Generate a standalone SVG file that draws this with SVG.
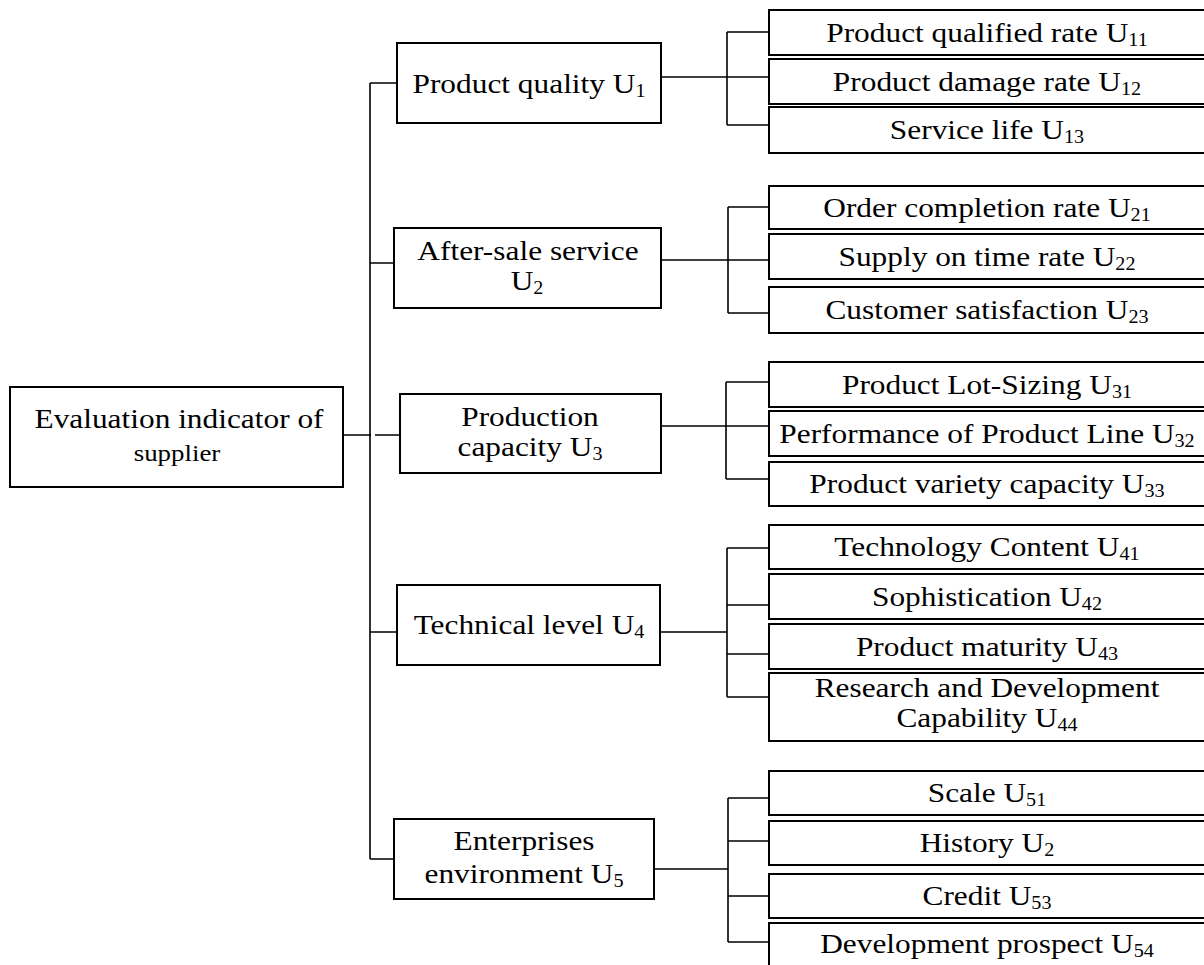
<svg xmlns="http://www.w3.org/2000/svg" width="1204" height="965" viewBox="0 0 1204 965">
<style>
.box{fill:#fff;stroke:#000;stroke-width:2}
.ln{stroke:#000;stroke-width:1.6;fill:none}
text{font-family:"Liberation Serif","Times New Roman",serif;font-size:28px;fill:#000;text-anchor:middle}
.sub{font-size:18px}
</style>
<rect width="1204" height="965" fill="#fff"/>
<g id="connectors" class="ln">
<path d="M370,83 V859 M370,83 H397 M370,263 H394 M343,435 H371 M375,435 H400 M370,632 H397 M370,859 H394"/>
<path d="M661,77 H769 M727,32 V125 M727,32 H769 M727,125 H769"/>
<path d="M661,260 H769 M728,207 V313 M728,207 H769 M728,313 H769"/>
<path d="M661,426 H769 M726,382 V479 M726,382 H769 M726,479 H769"/>
<path d="M660,632 H727 M727,548 V697 M727,548 H769 M727,605 H769 M727,654 H769 M727,697 H769"/>
<path d="M654,869 H728 M728,798 V942 M728,798 H769 M728,841 H769 M728,896 H769 M728,942 H769"/>
</g>
<g id="root"><rect class="box" x="10" y="387" width="333" height="100"/><text transform="translate(179,428) scale(1.12,1)">Evaluation indicator of</text><text transform="translate(177,461) scale(1.12,1)" style="font-size:24px">supplier</text></g>
<g id="u1"><rect class="box" x="397" y="43" width="264" height="80"/><text transform="translate(529,92.5) scale(1.12,1)">Product quality U<tspan class="sub" dy="4">1</tspan></text></g>
<g id="u2"><rect class="box" x="394" y="228" width="267" height="80"/><text transform="translate(528,260) scale(1.12,1)">After-sale service</text><text transform="translate(527,290) scale(1.12,1)">U<tspan class="sub" dy="4">2</tspan></text></g>
<g id="u3"><rect class="box" x="400" y="394" width="261" height="79"/><text transform="translate(530,426) scale(1.12,1)">Production</text><text transform="translate(530,456) scale(1.12,1)">capacity U<tspan class="sub" dy="4">3</tspan></text></g>
<g id="u4"><rect class="box" x="397" y="585" width="263" height="80"/><text transform="translate(529,634) scale(1.12,1)">Technical level U<tspan class="sub" dy="4">4</tspan></text></g>
<g id="u5"><rect class="box" x="394" y="819" width="260" height="80"/><text transform="translate(524,850) scale(1.12,1)">Enterprises</text><text transform="translate(524,883) scale(1.12,1)">environment U<tspan class="sub" dy="4">5</tspan></text></g>
<g id="u11"><rect class="box" x="769" y="10" width="441" height="45"/><text transform="translate(987,41.5) scale(1.12,1)">Product qualified rate U<tspan class="sub" dy="4">11</tspan></text></g>
<g id="u12"><rect class="box" x="769" y="59" width="441" height="45"/><text transform="translate(987,90.5) scale(1.12,1)">Product damage rate U<tspan class="sub" dy="4">12</tspan></text></g>
<g id="u13"><rect class="box" x="769" y="107" width="441" height="46"/><text transform="translate(987,139) scale(1.12,1)">Service life U<tspan class="sub" dy="4">13</tspan></text></g>
<g id="u21"><rect class="box" x="769" y="186" width="441" height="43"/><text transform="translate(987,216.5) scale(1.12,1)">Order completion rate U<tspan class="sub" dy="4">21</tspan></text></g>
<g id="u22"><rect class="box" x="769" y="234" width="441" height="45"/><text transform="translate(987,265.5) scale(1.12,1)">Supply on time rate U<tspan class="sub" dy="4">22</tspan></text></g>
<g id="u23"><rect class="box" x="769" y="287" width="441" height="46"/><text transform="translate(987,319) scale(1.12,1)">Customer satisfaction U<tspan class="sub" dy="4">23</tspan></text></g>
<g id="u31"><rect class="box" x="769" y="362" width="441" height="45"/><text transform="translate(987,393.5) scale(1.12,1)">Product Lot-Sizing U<tspan class="sub" dy="4">31</tspan></text></g>
<g id="u32"><rect class="box" x="769" y="411" width="441" height="45"/><text transform="translate(987,442.5) scale(1.12,1)">Performance of Product Line U<tspan class="sub" dy="4">32</tspan></text></g>
<g id="u33"><rect class="box" x="769" y="462" width="441" height="44"/><text transform="translate(987,493) scale(1.12,1)">Product variety capacity U<tspan class="sub" dy="4">33</tspan></text></g>
<g id="u41"><rect class="box" x="769" y="525" width="441" height="44"/><text transform="translate(987,556) scale(1.12,1)">Technology Content U<tspan class="sub" dy="4">41</tspan></text></g>
<g id="u42"><rect class="box" x="769" y="574" width="441" height="45"/><text transform="translate(987,605.5) scale(1.12,1)">Sophistication U<tspan class="sub" dy="4">42</tspan></text></g>
<g id="u43"><rect class="box" x="769" y="624" width="441" height="45"/><text transform="translate(987,655.5) scale(1.12,1)">Product maturity U<tspan class="sub" dy="4">43</tspan></text></g>
<g id="u44"><rect class="box" x="769" y="673" width="441" height="68"/><text transform="translate(987,697) scale(1.12,1)">Research and Development</text><text transform="translate(987,727) scale(1.12,1)">Capability U<tspan class="sub" dy="4">44</tspan></text></g>
<g id="u51"><rect class="box" x="769" y="771" width="441" height="44"/><text transform="translate(987,802) scale(1.12,1)">Scale U<tspan class="sub" dy="4">51</tspan></text></g>
<g id="u52"><rect class="box" x="769" y="821" width="441" height="44"/><text transform="translate(987,852) scale(1.12,1)">History U<tspan class="sub" dy="4">2</tspan></text></g>
<g id="u53"><rect class="box" x="769" y="874" width="441" height="44"/><text transform="translate(987,905) scale(1.12,1)">Credit U<tspan class="sub" dy="4">53</tspan></text></g>
<g id="u54"><rect class="box" x="769" y="923" width="441" height="60"/><text transform="translate(987,953) scale(1.12,1)">Development prospect U<tspan class="sub" dy="4">54</tspan></text></g>
</svg>
